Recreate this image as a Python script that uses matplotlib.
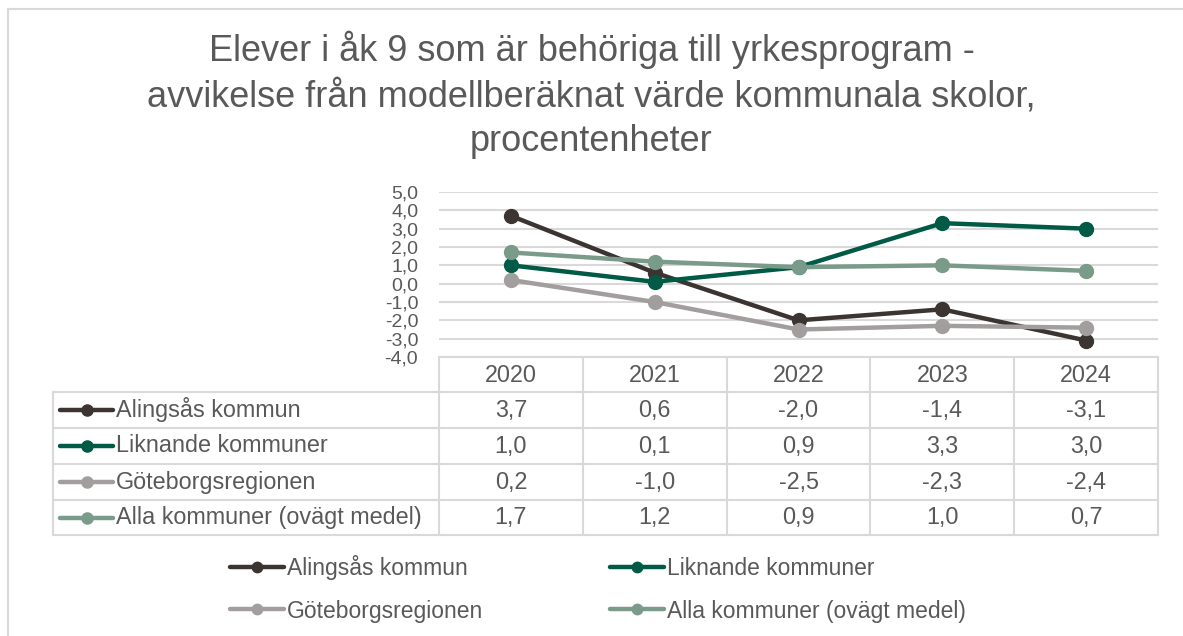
import matplotlib
matplotlib.use("Agg")
import matplotlib.pyplot as plt
from matplotlib.lines import Line2D

plt.rcParams['font.family'] = ['Liberation Sans', 'DejaVu Sans']

years = ["2020", "2021", "2022", "2023", "2024"]
series_names = ["Alingsås kommun", "Liknande kommuner", "Göteborgsregionen",
                "Alla kommuner (ovägt medel)"]
alingsas = [3.7, 0.6, -2.0, -1.4, -3.1]
liknande = [1.0, 0.1, 0.9, 3.3, 3.0]
goteborg = [0.2, -1.0, -2.5, -2.3, -2.4]
alla = [1.7, 1.2, 0.9, 1.0, 0.7]
series_values = [alingsas, liknande, goteborg, alla]
colors = ["#3B3431", "#005A46", "#A29E9E", "#7A9A8A"]
yticks = [-4, -3, -2, -1, 0, 1, 2, 3, 4, 5]
title = ("Elever i åk 9 som är behöriga till yrkesprogram -\n"
         "avvikelse från modellberäknat värde kommunala skolor,\n"
         "procentenheter")

W, H = 1183, 636
fig = plt.figure(figsize=(W / 100, H / 100), dpi=100)
TXT = "#595959"
GRID = "#D9D9D9"
FS = 16.8

def fx(px):
    return px / W

def fy(py):
    return 1 - py / H

# outer chart border
fig.add_artist(Line2D([fx(8), fx(8)], [fy(9), fy(636)], transform=fig.transFigure,
                      color=GRID, lw=1.5))
fig.add_artist(Line2D([fx(8), fx(1183)], [fy(9), fy(9)], transform=fig.transFigure,
                      color=GRID, lw=1.5))

L, R, T, B = 439, 1158, 192, 357
ax = fig.add_axes([fx(L), fy(B), fx(R) - fx(L), fy(T) - fy(B)])
ax.set_xlim(-0.5, len(years) - 0.5)
ax.set_ylim(-4, 5)
ax.set_yticks(yticks)
ax.set_yticklabels([f"{v:.1f}".replace(".", ",") for v in yticks],
                   fontsize=14, color=TXT)
ax.tick_params(axis='y', length=0, pad=15)
ax.set_xticks([])
for s in ax.spines.values():
    s.set_visible(False)
ax.grid(axis='y', color=GRID, lw=1.5)
ax.set_axisbelow(True)

xs = list(range(len(years)))
handles = []
for name, vals, c in zip(series_names, series_values, colors):
    ln, = ax.plot(xs, vals, color=c, lw=3.2, marker='o', markersize=10,
                  label=name, solid_capstyle='round', clip_on=False)
    handles.append(ln)

fig.text(0.5, fy(95), title, ha='center', va='center', fontsize=26,
         color=TXT, linespacing=1.37)

# data table
col_edges = [L + i * (R - L) / len(years) for i in range(len(years) + 1)]
row_edges = [357, 392, 428, 464, 500, 535]
TL = 53
tkw = dict(transform=fig.transFigure, color=GRID, lw=1.5)
fig.add_artist(Line2D([fx(L), fx(R)], [fy(row_edges[0])] * 2, **tkw))
for yy in row_edges[1:]:
    fig.add_artist(Line2D([fx(TL), fx(R)], [fy(yy)] * 2, **tkw))
for xx in col_edges:
    fig.add_artist(Line2D([fx(xx)] * 2, [fy(row_edges[0]), fy(row_edges[-1])], **tkw))
fig.add_artist(Line2D([fx(TL)] * 2, [fy(row_edges[1]), fy(row_edges[-1])], **tkw))

for i, yr in enumerate(years):
    cx = (col_edges[i] + col_edges[i + 1]) / 2
    fig.text(fx(cx), fy((row_edges[0] + row_edges[1]) / 2 + 1), yr, ha='center',
             va='center', fontsize=FS, color=TXT)

for r, (name, vals, c) in enumerate(zip(series_names, series_values, colors)):
    cy = (row_edges[r + 1] + row_edges[r + 2]) / 2
    fig.add_artist(Line2D([fx(60), fx(113)], [fy(cy)] * 2, transform=fig.transFigure,
                          color=c, lw=3.2, solid_capstyle='round'))
    fig.add_artist(Line2D([fx(86.5)], [fy(cy)], transform=fig.transFigure,
                          color=c, marker='o', markersize=8, lw=0))
    fig.text(fx(116), fy(cy), name, ha='left', va='center', fontsize=FS, color=TXT)
    for i, v in enumerate(vals):
        cx = (col_edges[i] + col_edges[i + 1]) / 2
        fig.text(fx(cx), fy(cy), f"{v:.1f}".replace(".", ","), ha='center',
                 va='center', fontsize=FS, color=TXT)

# bottom legend
order = [0, 2, 1, 3]
leg = fig.legend([handles[i] for i in order], [series_names[i] for i in order],
                 loc='center', bbox_to_anchor=(fx(598), fy(589)), ncol=2,
                 frameon=False, fontsize=16.5, handlelength=2.35, handletextpad=0.13,
                 columnspacing=5.55, labelspacing=0.83, markerscale=0.75)
for t in leg.get_texts():
    t.set_color(TXT)

fig.savefig("out.png", dpi=100)
